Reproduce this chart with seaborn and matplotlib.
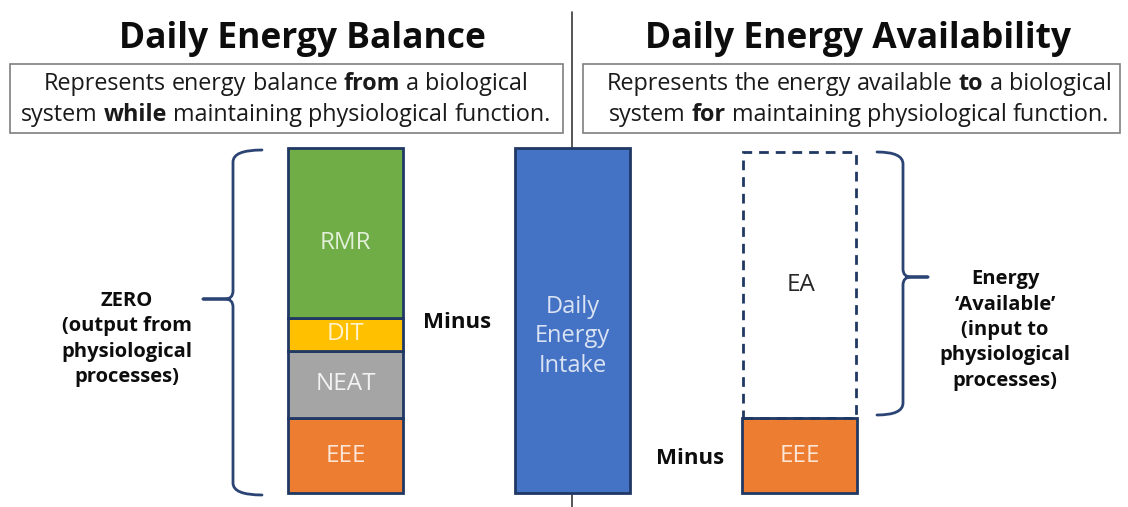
import matplotlib.pyplot as plt
import matplotlib.patches as mpatches
from matplotlib.path import Path
import seaborn as sns

sns.set_theme(style="white")
plt.rcParams['font.family'] = ['Open Sans', 'DejaVu Sans']

# Chart values (heights in drawing units)
balance_parts = ["EEE", "NEAT", "DIT", "RMR"]
balance_values = [75, 67, 33, 170]
balance_colors = ["#ED7D31", "#A5A5A5", "#FFC000", "#70AD47"]
balance_text_colors = ["#FBE5D6", "#F2F2F2", "#FFF2CC", "#E2F0D9"]
intake_label = "Daily\nEnergy\nIntake"
intake_value = 345
availability_parts = ["EEE", "EA"]
availability_values = [75, 266]

titles = ["Daily Energy Balance", "Daily Energy Availability"]
subtitles = [
    ["Represents energy balance *from a biological",
     "system *while maintaining physiological function."],
    ["Represents the energy available *to a biological",
     "system *for maintaining physiological function."],
]
left_note = "ZERO\n(output from\nphysiological\nprocesses)"
right_note = "Energy\n\u2018Available\u2019\n(input to\nphysiological\nprocesses)"

NAVY = "#1F3864"
BRACE = "#2B4474"

fig = plt.figure(figsize=(11.28, 5.07), dpi=100)
ax = fig.add_axes([0, 0, 1, 1])
ax.set_xlim(0, 1128)
ax.set_ylim(0, 507)
ax.axis("off")
renderer = fig.canvas.get_renderer()


def text_width(s, size, weight):
    t = ax.text(0, 0, s, fontsize=size, fontweight=weight)
    w = t.get_window_extent(renderer).width
    t.remove()
    return w


def rich_line(xc, y, line, size, color="#1A1A1A"):
    # words starting with * are bold
    words = line.split()
    space = text_width("a a", size, "normal") - text_width("aa", size, "normal")
    items = []
    for w in words:
        bold = w.startswith("*")
        w = w.lstrip("*")
        weight = "bold" if bold else "normal"
        items.append((w, weight, text_width(w, size, weight)))
    total = sum(i[2] for i in items) + space * (len(items) - 1)
    x = xc - total / 2
    for w, weight, wd in items:
        ax.text(x, y, w, fontsize=size, fontweight=weight, color=color,
                ha="left", va="center")
        x += wd + space


def brace(x_end, x_spine, x_tip, y_top, y_bot, y_tip, r=12, r2=8):
    d = 1 if x_tip > x_spine else -1
    verts = [(x_end, y_top), (x_spine, y_top), (x_spine, y_top - r),
             (x_spine, y_tip + r2), (x_spine, y_tip), (x_spine + d * r2, y_tip),
             (x_tip, y_tip),
             (x_spine + d * r2, y_tip), (x_spine, y_tip), (x_spine, y_tip - r2),
             (x_spine, y_bot + r), (x_spine, y_bot), (x_end, y_bot)]
    codes = [Path.MOVETO, Path.CURVE3, Path.CURVE3,
             Path.LINETO, Path.CURVE3, Path.CURVE3,
             Path.LINETO,
             Path.LINETO, Path.CURVE3, Path.CURVE3,
             Path.LINETO, Path.CURVE3, Path.CURVE3]
    ax.add_patch(mpatches.PathPatch(Path(verts, codes), fill=False,
                                    edgecolor=BRACE, linewidth=2.0,
                                    capstyle="round", joinstyle="round"))


# divider
ax.plot([572, 572], [0, 495], color="#3A3A3A", linewidth=1.2, zorder=1)

# titles and framed subtitles
for xt, xs, title, sub, (x0, x1) in zip([302, 858], [286, 859], titles, subtitles,
                                        [(10, 563), (583, 1120)]):
    ax.text(xt, 468, title, fontsize=25.5, fontweight="bold", color="#0D0D0D",
            ha="center", va="center")
    ax.add_patch(mpatches.Rectangle((x0, 374), x1 - x0, 69, fill=False,
                                    edgecolor="#7F7F7F", linewidth=1.2))
    rich_line(xs, 423, sub[0], 16.8)
    rich_line(xs, 392, sub[1], 16.8)

BASE = 14
WIDTH = 115
LABEL_SIZE = 17.5

# energy balance stacked bar
bottom = BASE
label_dy = [0, 0, 0, -10]
for part, val, col, tcol, dy in zip(balance_parts, balance_values,
                                    balance_colors, balance_text_colors, label_dy):
    ax.bar(345.5, val, bottom=bottom, width=WIDTH, color=col, edgecolor=NAVY,
           linewidth=2, zorder=3)
    ax.text(345.5, bottom + val / 2 + dy, part, fontsize=LABEL_SIZE, color=tcol,
            ha="center", va="center", zorder=4)
    bottom += val

# daily energy intake bar
ax.bar(572.5, intake_value, bottom=BASE, width=WIDTH, color="#4472C4",
       edgecolor=NAVY, linewidth=2, zorder=3)
ax.text(572.5, BASE + intake_value / 2 - 16, intake_label, fontsize=17,
        color="#DAE3F3", ha="center", va="center", linespacing=1.31, zorder=4)

# energy availability bar
ax.bar(799.5, availability_values[0], bottom=BASE, width=WIDTH,
       color=balance_colors[0], edgecolor=NAVY, linewidth=2, zorder=3)
ax.text(799.5, BASE + availability_values[0] / 2, availability_parts[0],
        fontsize=LABEL_SIZE, color=balance_text_colors[0], ha="center",
        va="center", zorder=4)
ea_bottom = BASE + availability_values[0]
ax.bar(799.5, availability_values[1], bottom=ea_bottom, width=WIDTH - 2,
       fill=False, edgecolor=NAVY, linewidth=2, linestyle=(0, (3.5, 2.5)), zorder=3)
ax.text(801, ea_bottom + availability_values[1] / 2, availability_parts[1],
        fontsize=LABEL_SIZE, color="#262626", ha="center", va="center", zorder=4)

# minus labels
ax.text(457, 184, "Minus", fontsize=16, fontweight="bold", color="#0D0D0D",
        ha="center", va="center")
ax.text(690, 49, "Minus", fontsize=16, fontweight="bold", color="#0D0D0D",
        ha="center", va="center")

# braces and notes
brace(262, 233, 203, 357, 12, 208)
brace(877, 903, 928, 355, 92, 230)
ax.text(127, 168, left_note, fontsize=14.5, fontweight="bold", color="#0D0D0D",
        ha="center", va="center", linespacing=1.36)
ax.text(1005, 177, right_note, fontsize=14.5, fontweight="bold", color="#0D0D0D",
        ha="center", va="center", linespacing=1.36)

fig.savefig("out.png", dpi=100)
